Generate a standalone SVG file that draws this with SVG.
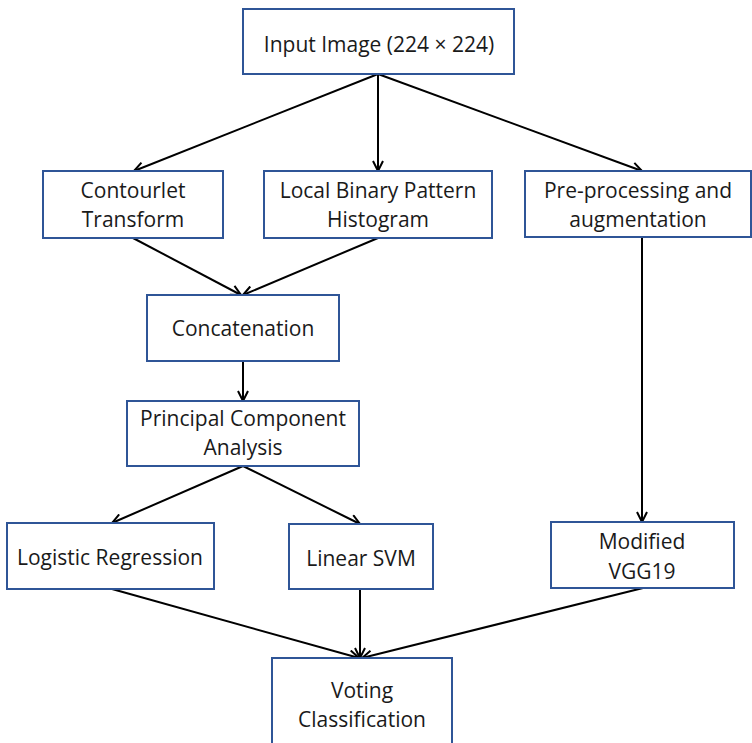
<svg xmlns="http://www.w3.org/2000/svg" width="752" height="743" viewBox="0 0 752 743">
<style>
.box{fill:#fff;stroke:#2f5597;stroke-width:2}
.t{font-family:"Open Sans","Liberation Sans",sans-serif;font-size:21px;fill:#1a1a1a;text-anchor:middle;dominant-baseline:central}
.c{stroke:#000;stroke-width:2;fill:none;marker-end:url(#ah)}
</style>
<defs>
<marker id="ah" viewBox="0 0 12 12" refX="11" refY="6" markerWidth="12" markerHeight="12" markerUnits="userSpaceOnUse" orient="auto">
<polyline points="1,1 11,6 1,11" fill="none" stroke="#000" stroke-width="2"/>
</marker>
</defs>
<rect width="752" height="743" fill="#fff"/>
<g id="connectors">
<line class="c" x1="378" y1="74" x2="134" y2="171"/>
<line class="c" x1="378" y1="74" x2="378" y2="171"/>
<line class="c" x1="378" y1="74" x2="642" y2="171"/>
<line class="c" x1="133" y1="238" x2="241" y2="295"/>
<line class="c" x1="378" y1="238" x2="243" y2="295"/>
<line class="c" x1="243" y1="361" x2="243" y2="401"/>
<line class="c" x1="243" y1="466" x2="112" y2="523"/>
<line class="c" x1="243" y1="466" x2="360" y2="524"/>
<line class="c" x1="642" y1="237" x2="642" y2="522"/>
<line class="c" x1="112" y1="589" x2="359" y2="658"/>
<line class="c" x1="360" y1="589" x2="360" y2="658"/>
<line class="c" x1="643" y1="588" x2="362" y2="658"/>
</g>
<g id="input"><rect class="box" x="243" y="9" width="271" height="65"/><text class="t" x="379" y="44">Input Image (224 × 224)</text></g>
<g id="contourlet"><rect class="box" x="43" y="171" width="180" height="67"/><text class="t" x="133" y="190">Contourlet</text><text class="t" x="133" y="219">Transform</text></g>
<g id="lbp"><rect class="box" x="264" y="171" width="228" height="67"/><text class="t" x="378" y="190">Local Binary Pattern</text><text class="t" x="378" y="219">Histogram</text></g>
<g id="preproc"><rect class="box" x="525" y="171" width="226" height="66"/><text class="t" x="638" y="190">Pre-processing and</text><text class="t" x="638" y="219">augmentation</text></g>
<g id="concat"><rect class="box" x="147" y="295" width="192" height="66"/><text class="t" x="243" y="328">Concatenation</text></g>
<g id="pca"><rect class="box" x="127" y="401" width="232" height="65"/><text class="t" x="243" y="418">Principal Component</text><text class="t" x="243" y="447">Analysis</text></g>
<g id="logreg"><rect class="box" x="7" y="523" width="207" height="66"/><text class="t" x="110" y="557">Logistic Regression</text></g>
<g id="svm"><rect class="box" x="289" y="524" width="144" height="65"/><text class="t" x="361" y="558">Linear SVM</text></g>
<g id="vgg"><rect class="box" x="551" y="522" width="183" height="66"/><text class="t" x="642" y="541">Modified</text><text class="t" x="642" y="571">VGG19</text></g>
<g id="voting"><rect class="box" x="272" y="658" width="180" height="100"/><text class="t" x="362" y="690">Voting</text><text class="t" x="362" y="719">Classification</text></g>
</svg>
